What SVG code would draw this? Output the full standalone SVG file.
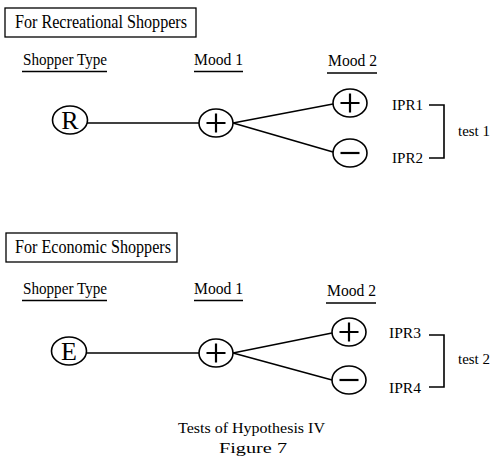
<svg xmlns="http://www.w3.org/2000/svg" width="494" height="459" viewBox="0 0 494 459">
<style>
text{font-family:"Liberation Serif","Times New Roman",serif;fill:#000}
.t{font-size:18px}
.h{font-size:17px}
.s{font-size:15.5px}
.big{font-size:26px;text-anchor:middle}
.n ellipse{fill:#fff;stroke:#000;stroke-width:1.6}
.b{fill:#fff;stroke:#000;stroke-width:1.3}
.u{stroke:#000;stroke-width:1.5}
.c line,.c polyline{stroke:#000;stroke-width:1.6;fill:none}
.sym{stroke:#000;stroke-width:2.2;fill:none}
</style>
<rect width="494" height="459" fill="#fff"/>
<!-- Top section -->
<g id="title1"><rect class="b" x="5" y="8" width="191" height="29"/><text class="t" x="15" y="28" textLength="172" lengthAdjust="spacingAndGlyphs">For Recreational Shoppers</text></g>
<g id="hdr1">
<text class="h" x="23" y="65" textLength="84" lengthAdjust="spacingAndGlyphs">Shopper Type</text><line class="u" x1="22" y1="71.5" x2="107" y2="71.5"/>
<text class="h" x="194" y="65" textLength="49" lengthAdjust="spacingAndGlyphs">Mood 1</text><line class="u" x1="194" y1="71.5" x2="243" y2="71.5"/>
<text class="h" x="328" y="66" textLength="49" lengthAdjust="spacingAndGlyphs">Mood 2</text><line class="u" x1="327" y1="73" x2="377" y2="73"/>
</g>
<g class="c" id="connectors1">
<line x1="87" y1="123" x2="199" y2="123"/>
<line x1="233" y1="123" x2="333" y2="104"/>
<line x1="233" y1="123" x2="333" y2="152"/>
<polyline points="429,105 444,105 444,158 429,158"/>
</g>
<g class="n" id="R"><ellipse cx="70" cy="120" rx="17.5" ry="14"/><text class="big" x="70" y="129">R</text></g>
<g class="n" id="m1a"><ellipse cx="216" cy="123" rx="17" ry="14"/><path class="sym" d="M206.5 123H225.5M216 113.5V132.5"/></g>
<g class="n" id="m2a"><ellipse cx="350" cy="103" rx="17" ry="14"/><path class="sym" d="M340.5 103H359.5M350 93.5V112.5"/></g>
<g class="n" id="m2b"><ellipse cx="350" cy="153" rx="17" ry="14"/><path class="sym" d="M340.5 153H359.5"/></g>
<g id="ipr1"><text class="s" x="392" y="110" textLength="31" lengthAdjust="spacingAndGlyphs">IPR1</text></g>
<g id="ipr2"><text class="s" x="392" y="163" textLength="31" lengthAdjust="spacingAndGlyphs">IPR2</text></g>
<g id="test1"><text class="s" x="458" y="136" textLength="32" lengthAdjust="spacingAndGlyphs">test 1</text></g>
<!-- Bottom section -->
<g id="title2"><rect class="b" x="6" y="233" width="171" height="29"/><text class="t" x="15" y="253" textLength="156" lengthAdjust="spacingAndGlyphs">For Economic Shoppers</text></g>
<g id="hdr2">
<text class="h" x="23" y="294" textLength="84" lengthAdjust="spacingAndGlyphs">Shopper Type</text><line class="u" x1="22" y1="300.5" x2="107" y2="300.5"/>
<text class="h" x="194" y="294" textLength="49" lengthAdjust="spacingAndGlyphs">Mood 1</text><line class="u" x1="194" y1="300.5" x2="243" y2="300.5"/>
<text class="h" x="327" y="296" textLength="49" lengthAdjust="spacingAndGlyphs">Mood 2</text><line class="u" x1="326" y1="303" x2="376" y2="303"/>
</g>
<g class="c" id="connectors2">
<line x1="87" y1="353" x2="199" y2="353"/>
<line x1="233" y1="353" x2="332" y2="333"/>
<line x1="233" y1="353" x2="332" y2="380"/>
<polyline points="429,335 444,335 444,387 429,387"/>
</g>
<g class="n" id="E"><ellipse cx="69" cy="351" rx="17.5" ry="14"/><text class="big" x="69" y="360">E</text></g>
<g class="n" id="m1b"><ellipse cx="216" cy="353" rx="17" ry="14"/><path class="sym" d="M206.5 353H225.5M216 343.5V362.5"/></g>
<g class="n" id="m2c"><ellipse cx="349" cy="332" rx="17" ry="14"/><path class="sym" d="M339.5 332H358.5M349 322.5V341.5"/></g>
<g class="n" id="m2d"><ellipse cx="349" cy="380" rx="17" ry="14"/><path class="sym" d="M339.5 380H358.5"/></g>
<g id="ipr3"><text class="s" x="389" y="338" textLength="32" lengthAdjust="spacingAndGlyphs">IPR3</text></g>
<g id="ipr4"><text class="s" x="389" y="393" textLength="32" lengthAdjust="spacingAndGlyphs">IPR4</text></g>
<g id="test2"><text class="s" x="458" y="364" textLength="32" lengthAdjust="spacingAndGlyphs">test 2</text></g>
<!-- Caption -->
<g id="caption">
<text class="s" x="178" y="433" textLength="147" lengthAdjust="spacingAndGlyphs">Tests of Hypothesis IV</text>
<text class="s" x="219" y="453" textLength="68" lengthAdjust="spacingAndGlyphs">Figure 7</text>
</g>
</svg>
